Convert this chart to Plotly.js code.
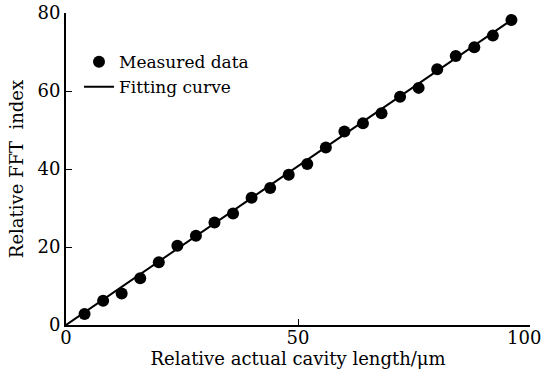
<!DOCTYPE html>
<html><head><meta charset="utf-8">
<script src="https://cdn.plot.ly/plotly-3.0.1.min.js"></script>
<style>html,body{margin:0;padding:0;background:#fff}#chart{width:542px;height:369px}</style>
</head><body><div id="chart"></div>
<script>
const measuredX = [4, 8, 12, 16, 20, 24, 28, 32, 36, 40, 44, 48, 52, 56, 60, 64, 68, 72, 76, 80, 84, 88, 92, 96];
const measuredY = [2.8, 6.2, 8.1, 12.0, 16.1, 20.3, 22.9, 26.3, 28.6, 32.6, 35.1, 38.5, 41.3, 45.5, 49.6, 51.7, 54.3, 58.5, 60.8, 65.6, 69.0, 71.2, 74.2, 78.2];
const fitX = [0, 96.5];
const fitY = [0, 78.6];
const xTicks = [0, 50, 100];
const xTickText = ['0', '50', '100\u2007'];
const yTicks = [0, 20, 40, 60, 80];

const font = 'DejaVu Serif, Liberation Serif, serif';
const fs = 18;
Plotly.newPlot('chart', [
  {x: measuredX, y: measuredY, mode: 'markers', name: 'Measured data',
   marker: {color: '#000', size: 12}},
  {x: fitX, y: fitY, mode: 'lines', name: 'Fitting curve',
   line: {color: '#000', width: 2}}
], {
  width: 542, height: 369,
  margin: {l: 66, r: 12, t: 13, b: 44},
  paper_bgcolor: '#fff', plot_bgcolor: '#fff',
  font: {family: font, size: fs, color: '#000'},
  showlegend: true,
  legend: {x: 0.028, y: 0.9, xanchor: 'left', yanchor: 'top', bgcolor: 'rgba(0,0,0,0)',
           font: {family: font, size: 17}, tracegroupgap: 0, itemwidth: 30},
  xaxis: {range: [0, 100], tickvals: xTicks, ticktext: xTickText,
          ticks: 'inside', ticklen: 6, tickcolor: '#000', showgrid: false, zeroline: false,
          showline: true, linecolor: '#000', linewidth: 2, mirror: false,
          tickfont: {family: font, size: fs}, ticklabelstandoff: -5, ticklabeloverflow: 'allow',
          title: {text: 'Relative actual cavity length/μm', font: {family: font, size: fs}, standoff: 0}},
  yaxis: {range: [0, 80], tickvals: yTicks, ticktext: yTicks.map(String),
          ticks: 'inside', ticklen: 6, tickcolor: '#000', showgrid: false, zeroline: false,
          showline: true, linecolor: '#000', linewidth: 2, mirror: false,
          tickfont: {family: font, size: fs}, ticklabelstandoff: 0,
          title: {text: 'Relative FFT  index', font: {family: font, size: fs}, standoff: 9}},
  xaxis2: {range: [0, 100], overlaying: 'x', side: 'top', anchor: 'y', tickvals: [50],
           ticks: 'inside', ticklen: 4, tickcolor: '#888', showticklabels: false, showgrid: false,
           zeroline: false, showline: true, linecolor: '#666', linewidth: 1},
  yaxis2: {range: [0, 80], overlaying: 'y', side: 'right', anchor: 'x', tickvals: [20, 40, 60],
           ticks: 'inside', ticklen: 4, tickcolor: '#888', showticklabels: false, showgrid: false,
           zeroline: false, showline: true, linecolor: '#666', linewidth: 1}
}, {displayModeBar: false, staticPlot: true});
</script></body></html>
